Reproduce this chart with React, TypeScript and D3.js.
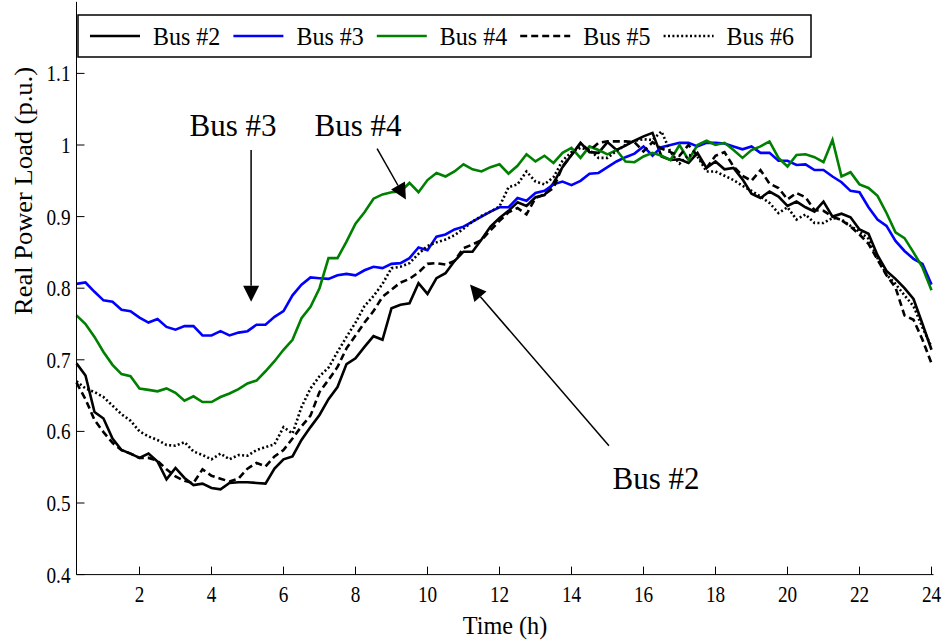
import React from "react";
import * as d3 from "d3";

const W = 950;
const H = 643;

// Quarter-hour time steps over the day (0.25 h .. 24 h)
const timeSteps = d3.range(1, 97).map((i) => i / 4);

const bus2 = [
  0.695, 0.678, 0.627, 0.618, 0.590, 0.574, 0.569, 0.563,
  0.569, 0.558, 0.533, 0.549, 0.535, 0.525, 0.527, 0.521,
  0.519, 0.528, 0.529, 0.529, 0.528, 0.527, 0.548, 0.561,
  0.565, 0.588, 0.606, 0.623, 0.645, 0.662, 0.694, 0.702,
  0.718, 0.733, 0.728, 0.772, 0.777, 0.779, 0.807, 0.792,
  0.814, 0.821, 0.838, 0.851, 0.851, 0.868, 0.886, 0.898,
  0.908, 0.920, 0.915, 0.927, 0.930, 0.947, 0.969, 0.986,
  1.003, 0.990, 0.989, 1.004, 0.993, 0.999, 1.006, 1.012,
  1.017, 0.984, 0.979, 0.980, 0.975, 0.989, 0.968, 0.977,
  0.966, 0.968, 0.952, 0.932, 0.926, 0.935, 0.928, 0.915,
  0.921, 0.913, 0.907, 0.921, 0.900, 0.904, 0.899, 0.882,
  0.876, 0.846, 0.824, 0.813, 0.800, 0.785, 0.750, 0.714,
];

const bus3 = [
  0.806, 0.808, 0.795, 0.783, 0.781, 0.770, 0.768, 0.759,
  0.752, 0.757, 0.746, 0.742, 0.747, 0.747, 0.734, 0.734,
  0.740, 0.734, 0.738, 0.740, 0.749, 0.749, 0.760, 0.768,
  0.790, 0.805, 0.815, 0.814, 0.813, 0.818, 0.820, 0.818,
  0.825, 0.830, 0.828, 0.834, 0.835, 0.842, 0.857, 0.853,
  0.872, 0.875, 0.882, 0.886, 0.893, 0.900, 0.907, 0.913,
  0.913, 0.926, 0.922, 0.933, 0.936, 0.945, 0.949, 0.944,
  0.950, 0.960, 0.961, 0.969, 0.977, 0.983, 0.988, 0.998,
  0.985, 0.997, 1.000, 1.003, 1.003, 0.998, 1.003, 1.003,
  1.002, 0.998, 0.994, 0.998, 0.989, 0.989, 0.978, 0.978,
  0.972, 0.973, 0.965, 0.965, 0.956, 0.948, 0.936, 0.934,
  0.913, 0.896, 0.887, 0.866, 0.852, 0.841, 0.834, 0.805,
];

const bus4 = [
  0.762, 0.750, 0.732, 0.711, 0.693, 0.680, 0.677, 0.660,
  0.658, 0.656, 0.660, 0.654, 0.643, 0.649, 0.641, 0.641,
  0.648, 0.653, 0.659, 0.667, 0.671, 0.684, 0.698, 0.714,
  0.728, 0.758, 0.774, 0.800, 0.842, 0.842, 0.865, 0.890,
  0.906, 0.925, 0.931, 0.934, 0.935, 0.947, 0.934, 0.951,
  0.961, 0.956, 0.963, 0.973, 0.966, 0.963, 0.969, 0.973,
  0.960, 0.971, 0.987, 0.977, 0.985, 0.975, 0.989, 0.996,
  0.982, 0.998, 0.993, 0.987, 0.993, 0.977, 0.976, 0.984,
  0.989, 0.985, 0.979, 1.000, 0.979, 1.000, 1.006, 1.000,
  1.003, 0.993, 0.982, 0.993, 0.998, 1.005, 0.982, 0.970,
  0.986, 0.987, 0.983, 0.976, 1.007, 0.956, 0.962, 0.945,
  0.940, 0.929, 0.905, 0.878, 0.870, 0.850, 0.829, 0.797,
];

const bus5 = [
  0.668, 0.645, 0.616, 0.599, 0.584, 0.574, 0.569, 0.563,
  0.563, 0.559, 0.547, 0.537, 0.531, 0.528, 0.547, 0.538,
  0.534, 0.530, 0.534, 0.548, 0.556, 0.551, 0.565, 0.574,
  0.590, 0.607, 0.622, 0.655, 0.672, 0.690, 0.716, 0.734,
  0.752, 0.768, 0.788, 0.798, 0.808, 0.813, 0.822, 0.834,
  0.835, 0.833, 0.838, 0.856, 0.861, 0.867, 0.881, 0.894,
  0.906, 0.912, 0.903, 0.926, 0.931, 0.940, 0.970, 0.986,
  1.002, 0.992, 1.003, 1.005, 1.005, 1.005, 1.004, 0.991,
  1.004, 0.995, 0.990, 0.985, 1.000, 0.985, 0.968, 0.985,
  0.990, 0.970, 0.957, 0.950, 0.965, 0.946, 0.940, 0.924,
  0.933, 0.927, 0.909, 0.908, 0.900, 0.895, 0.886, 0.875,
  0.862, 0.840, 0.818, 0.801, 0.762, 0.756, 0.728, 0.695,
];

const bus6 = [
  0.670, 0.660, 0.655, 0.648, 0.636, 0.624, 0.615, 0.600,
  0.593, 0.588, 0.581, 0.580, 0.585, 0.572, 0.567, 0.561,
  0.569, 0.561, 0.567, 0.566, 0.574, 0.578, 0.582, 0.606,
  0.597, 0.634, 0.660, 0.677, 0.689, 0.711, 0.732, 0.752,
  0.775, 0.789, 0.806, 0.828, 0.830, 0.835, 0.848, 0.859,
  0.864, 0.868, 0.874, 0.883, 0.893, 0.901, 0.907, 0.914,
  0.941, 0.945, 0.963, 0.949, 0.945, 0.955, 0.978, 0.990,
  0.996, 0.993, 0.982, 0.982, 0.992, 1.000, 1.006, 1.008,
  1.007, 1.019, 0.990, 0.974, 0.986, 0.984, 0.963, 0.963,
  0.957, 0.951, 0.943, 0.936, 0.928, 0.919, 0.905, 0.913,
  0.896, 0.903, 0.891, 0.891, 0.898, 0.896, 0.887, 0.879,
  0.869, 0.842, 0.819, 0.806, 0.790, 0.775, 0.745, 0.718,
];

const seriesNames = ["Bus #2", "Bus #3", "Bus #4", "Bus #5", "Bus #6"];
const seriesValues = [bus2, bus3, bus4, bus5, bus6];
const seriesColors = ["#000000", "#0000ff", "#008000", "#000000", "#000000"];
const seriesDash = ["none", "none", "none", "7,4", "2,2.4"];

const xTicks = [2, 4, 6, 8, 10, 12, 14, 16, 18, 20, 22, 24];
const yTicks = [0.4, 0.5, 0.6, 0.7, 0.8, 0.9, 1, 1.1];

// Callouts: label anchor and arrow (tail -> head) in data units
const callouts = [
  { label: "Bus #3", tx: 4.6, ty: 1.012, from: [5.1, 0.993], to: [5.1, 0.781] },
  { label: "Bus #4", tx: 8.07, ty: 1.012, from: [8.6, 0.995], to: [9.4, 0.924] },
  { label: "Bus #2", tx: 16.35, ty: 0.519, from: [15.04, 0.58], to: [11.18, 0.805] },
];

const FONT = "'Liberation Serif', 'Times New Roman', serif";

function SqText({ x, y, size, anchor = "middle", sx = 0.8, children }: any) {
  return (
    <text
      transform={`translate(${x},${y}) scale(${sx},1)`}
      fontFamily={FONT}
      fontSize={size}
      textAnchor={anchor}
      fill="#000"
    >
      {children}
    </text>
  );
}

export default function App() {
  const x = d3.scaleLinear().domain([0.25, 24]).range([76.5, 931.5]);
  const y = d3.scaleLinear().domain([0.4, 1.2]).range([574.6, 1.8]);

  const line = d3
    .line<number>()
    .x((_, i) => x(timeSteps[i]))
    .y((d) => y(d));

  const legendX0 = 90;
  const legendStep = 143.4;

  return (
    <svg
      width={W}
      height={H}
      style={{ position: "absolute", left: 0, top: 0, background: "#fff" }}
    >
      <rect x={0} y={0} width={W} height={H} fill="#fff" />

      {/* data lines */}
      {seriesValues.map((vals, i) => (
        <path
          key={seriesNames[i]}
          d={line(vals) || ""}
          fill="none"
          stroke={seriesColors[i]}
          strokeWidth={2.6}
          strokeDasharray={seriesDash[i]}
          strokeLinejoin="miter"
        />
      ))}

      {/* axes */}
      <line x1={x(0.25)} x2={x(0.25)} y1={y(1.2)} y2={y(0.4)} stroke="#000" strokeWidth={1} />
      <line x1={x(0.25)} x2={x(24) + 2} y1={y(0.4)} y2={y(0.4)} stroke="#000" strokeWidth={1} />
      {yTicks.map((t) => (
        <g key={"y" + t}>
          <line x1={x(0.25)} x2={x(0.25) + 8} y1={y(t)} y2={y(t)} stroke="#000" />
          <SqText x={x(0.25) - 6} y={y(t) + 8} size={24} anchor="end">
            {d3.format("")(t)}
          </SqText>
        </g>
      ))}
      {xTicks.map((t) => (
        <g key={"x" + t}>
          <line x1={x(t)} x2={x(t)} y1={y(0.4)} y2={y(0.4) - 8} stroke="#000" />
          <SqText x={x(t)} y={y(0.4) + 27} size={24}>
            {t}
          </SqText>
        </g>
      ))}
      <SqText x={505} y={634} size={25} sx={0.97}>
        Time (h)
      </SqText>
      <g transform="translate(32,191) rotate(-90)">
        <text fontFamily={FONT} fontSize={26.5} textAnchor="middle" transform="scale(1,0.92)" fill="#000">
          Real Power Load (p.u.)
        </text>
      </g>

      {/* callouts */}
      {callouts.map((c) => {
        const x1 = x(c.from[0]);
        const y1 = y(c.from[1]);
        const x2 = x(c.to[0]);
        const y2 = y(c.to[1]);
        const ang = Math.atan2(y2 - y1, x2 - x1);
        const len = 16;
        const hw = 8;
        const bx = x2 - len * Math.cos(ang);
        const by = y2 - len * Math.sin(ang);
        const px = -Math.sin(ang) * hw;
        const py = Math.cos(ang) * hw;
        return (
          <g key={c.label}>
            <line x1={x1} y1={y1} x2={bx} y2={by} stroke="#000" strokeWidth={1.5} />
            <path
              d={`M${x2},${y2}L${bx + px},${by + py}L${bx - px},${by - py}Z`}
              fill="#000"
            />
            <SqText x={x(c.tx)} y={y(c.ty)} size={31} sx={1}>
              {c.label}
            </SqText>
          </g>
        );
      })}

      {/* legend */}
      <rect x={78} y={15} width={733} height={42} fill="#fff" stroke="#000" strokeWidth={1.5} />
      {seriesNames.map((n, i) => {
        const lx = legendX0 + i * legendStep;
        return (
          <g key={"leg" + n}>
            <line
              x1={lx}
              x2={lx + 50}
              y1={36}
              y2={36}
              stroke={seriesColors[i]}
              strokeWidth={2.6}
              strokeDasharray={seriesDash[i]}
            />
            <SqText x={lx + 63} y={45} size={25} anchor="start" sx={0.96}>
              {n}
            </SqText>
          </g>
        );
      })}
    </svg>
  );
}
